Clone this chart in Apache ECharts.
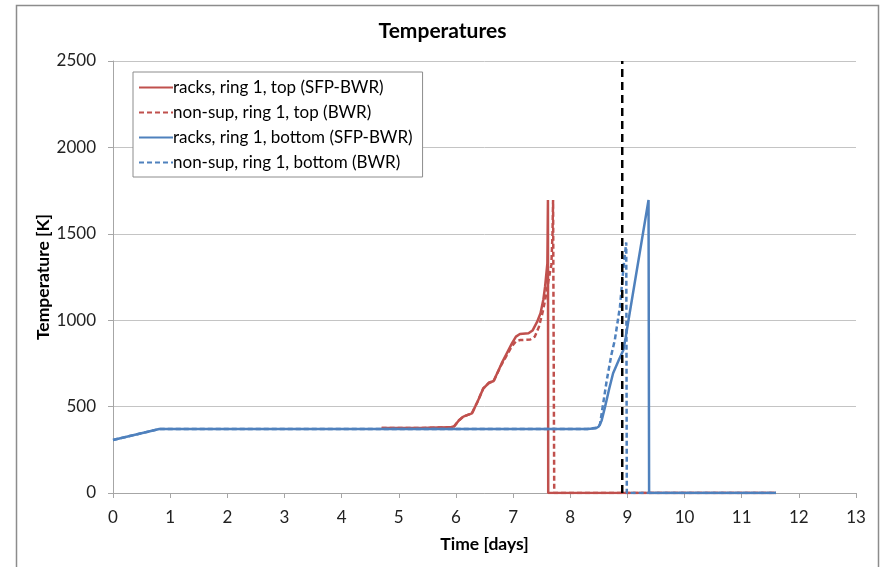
<!DOCTYPE html>
<html>
<head>
<meta charset="utf-8">
<script src="https://cdn.jsdelivr.net/npm/echarts@6/dist/echarts.min.js"></script>
<style>
  html, body { margin: 0; padding: 0; background: #fff; }
  #chart { width: 885px; height: 567px; }
</style>
</head>
<body>
<div id="chart"></div>
<script>
var seriesNames = [
  "racks, ring 1, top (SFP-BWR)",
  "non-sup, ring 1, top (BWR)",
  "racks, ring 1, bottom (SFP-BWR)",
  "non-sup, ring 1, bottom (BWR)"
];

// [time in days, temperature in K]
var racksTop = [
  [4.7, 376], [5.5, 377], [5.9, 380], [5.97, 386], [6.05, 420], [6.13, 442],
  [6.28, 461], [6.38, 530], [6.48, 606], [6.58, 638], [6.66, 648], [6.8, 750],
  [6.98, 866], [7.05, 905], [7.12, 920], [7.27, 924], [7.34, 940], [7.42, 990],
  [7.48, 1040], [7.53, 1120], [7.56, 1194], [7.6, 1329], [7.605, 1500],
  [7.61, 1696], [7.615, 0], [11.6, 0]
];
var nonSupTop = [
  [4.7, 376], [5.5, 377], [5.9, 380], [5.97, 386], [6.05, 420], [6.13, 442],
  [6.28, 461], [6.38, 530], [6.48, 606], [6.58, 638], [6.66, 648], [6.8, 745],
  [6.98, 850], [7.05, 878], [7.12, 885], [7.3, 888], [7.38, 905], [7.45, 960],
  [7.52, 1050], [7.58, 1150], [7.63, 1250], [7.67, 1320], [7.69, 1500],
  [7.7, 1696], [7.72, 0], [11.6, 0]
];
var racksBottom = [
  [0, 307], [0.81, 370], [8.3, 370], [8.45, 375], [8.5, 385], [8.55, 420],
  [8.61, 500], [8.68, 600], [8.75, 693], [8.85, 770], [8.93, 828], [8.97, 900],
  [9.02, 1001], [9.37, 1696], [9.38, 0], [11.6, 0]
];
var nonSupBottom = [
  [0, 307], [0.81, 370], [8.3, 370], [8.45, 378], [8.52, 395], [8.55, 461],
  [8.64, 654], [8.72, 800], [8.78, 885], [8.87, 1078], [8.93, 1300],
  [8.98, 1450], [8.99, 0], [11.6, 0]
];
var markerLine = [[8.91, 0], [8.91, 2500]];

var red = "#c0504d";
var blue = "#4f81bd";
var font = "Lato, 'Open Sans', sans-serif";

var chart = echarts.init(document.getElementById("chart"));

function curve(name, data, color, dashed) {
  return {
    name: name,
    type: "line",
    data: data,
    showSymbol: false,
    symbol: "none",
    color: color,
    lineStyle: { width: 2.5, color: color, type: dashed ? [5, 3] : "solid" },
    animation: false
  };
}

var option = {
  backgroundColor: "#fff",
  animation: false,
  title: {
    text: "Temperatures",
    left: "center",
    top: 16,
    textStyle: { fontFamily: font, fontSize: 21, fontWeight: "bold", color: "#000" }
  },
  graphic: [{
    type: "rect",
    shape: { x: 16.5, y: 5.5, width: 862, height: 600 },
    style: { fill: null, stroke: "#8c8c8c", lineWidth: 1.5 },
    silent: true
  }],
  legend: {
    data: seriesNames,
    orient: "vertical",
    left: 133,
    top: 72,
    padding: [7, 10, 6, 5],
    itemGap: 8,
    itemWidth: 34,
    itemHeight: 14,
    backgroundColor: "#fff",
    borderColor: "#8c8c8c",
    borderWidth: 1,
    align: "left",
    itemStyle: { opacity: 0 },
    textStyle: { fontFamily: font, fontSize: 17, color: "#000", padding: [0, 0, 0, -5] }
  },
  grid: { left: 113, right: 29, top: 61, bottom: 74 },
  xAxis: {
    type: "value",
    min: 0,
    max: 13,
    interval: 1,
    name: "Time [days]",
    nameLocation: "middle",
    nameGap: 42,
    nameTextStyle: { fontFamily: font, fontSize: 17.5, fontWeight: "bold", color: "#000" },
    axisLine: { lineStyle: { color: "#a6a6a6", width: 1 } },
    axisTick: { show: true, length: 5, lineStyle: { color: "#a6a6a6" } },
    axisLabel: { fontFamily: font, fontSize: 17, color: "#222", margin: 16 },
    splitLine: { show: false }
  },
  yAxis: {
    type: "value",
    min: 0,
    max: 2500,
    interval: 500,
    name: "Temperature [K]",
    nameLocation: "middle",
    nameGap: 61,
    nameMoveOverlap: false,
    nameTextStyle: { fontFamily: font, fontSize: 17.5, fontWeight: "bold", color: "#000" },
    axisLine: { show: true, lineStyle: { color: "#a6a6a6", width: 1 } },
    axisTick: { show: true, length: 5, lineStyle: { color: "#a6a6a6" } },
    axisLabel: {
      fontFamily: font, fontSize: 17, color: "#222", margin: 17,
      formatter: function (v) { return String(v); }
    },
    splitLine: { show: true, lineStyle: { color: "#c4c4c4", width: 1 } }
  },
  series: [
    curve(seriesNames[0], racksTop, red, false),
    curve(seriesNames[1], nonSupTop, red, true),
    curve(seriesNames[2], racksBottom, blue, false),
    curve(seriesNames[3], nonSupBottom, blue, true),
    {
      name: "marker",
      type: "line",
      data: markerLine,
      showSymbol: false,
      symbol: "none",
      lineStyle: { width: 2.5, color: "#000", type: [8, 5] },
      animation: false
    }
  ]
};

chart.setOption(option);
</script>
</body>
</html>
